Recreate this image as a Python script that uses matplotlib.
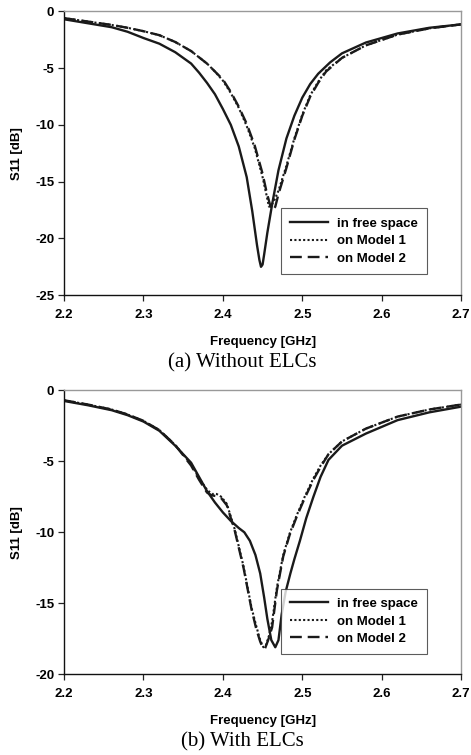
import matplotlib
matplotlib.use("Agg")
import matplotlib.pyplot as plt

# (a) without ELCs
freq_a_free = [2.20, 2.23, 2.26, 2.28, 2.30, 2.32, 2.34, 2.36, 2.37, 2.38, 2.39, 2.40, 2.41, 2.42, 2.43,
               2.437, 2.443, 2.446, 2.448, 2.450, 2.452, 2.456, 2.462, 2.47, 2.48, 2.49, 2.50, 2.51,
               2.52, 2.535, 2.55, 2.58, 2.62, 2.66, 2.70]
s11_a_free = [-0.7, -1.05, -1.4, -1.8, -2.35, -2.85, -3.6, -4.6, -5.4, -6.3, -7.3, -8.6, -10.0, -11.9, -14.6,
              -17.6, -20.6, -21.9, -22.5, -22.3, -21.4, -19.5, -17.0, -14.0, -11.2, -9.2, -7.6, -6.4,
              -5.5, -4.5, -3.7, -2.75, -1.95, -1.45, -1.15]

freq_a_m1 = [2.20, 2.23, 2.26, 2.28, 2.30, 2.32, 2.34, 2.36, 2.38, 2.39, 2.40, 2.41, 2.42, 2.43, 2.44,
             2.45, 2.455, 2.458, 2.461, 2.465, 2.47, 2.48, 2.49, 2.50, 2.51, 2.52, 2.53, 2.55, 2.58,
             2.62, 2.66, 2.70]
s11_a_m1 = [-0.6, -0.9, -1.2, -1.45, -1.75, -2.1, -2.7, -3.5, -4.6, -5.3, -6.1, -7.2, -8.5, -10.1, -12.0,
            -14.6, -16.2, -17.2, -17.1, -16.6, -15.8, -13.6, -11.2, -9.1, -7.4, -6.2, -5.2, -4.1, -3.0,
            -2.05, -1.5, -1.15]

freq_a_m2 = [2.20, 2.23, 2.26, 2.28, 2.30, 2.32, 2.34, 2.36, 2.38, 2.39, 2.40, 2.41, 2.42, 2.43, 2.44,
             2.45, 2.455, 2.46, 2.463, 2.466, 2.47, 2.48, 2.49, 2.50, 2.51, 2.52, 2.53, 2.55, 2.58,
             2.62, 2.66, 2.70]
s11_a_m2 = [-0.6, -0.9, -1.2, -1.45, -1.75, -2.1, -2.7, -3.5, -4.6, -5.3, -6.0, -7.1, -8.4, -9.9, -11.8,
            -14.3, -15.9, -17.2, -17.5, -17.2, -16.1, -13.8, -11.3, -9.2, -7.5, -6.3, -5.3, -4.1, -3.0,
            -2.05, -1.5, -1.15]

# (b) with ELCs
freq_b_free = [2.20, 2.23, 2.26, 2.28, 2.30, 2.32, 2.34, 2.36, 2.37, 2.38, 2.39, 2.40, 2.41, 2.42, 2.427,
               2.434, 2.441, 2.447, 2.452, 2.456, 2.461, 2.466, 2.470, 2.474, 2.479, 2.485, 2.49, 2.497,
               2.505, 2.514, 2.523, 2.533, 2.55, 2.58, 2.62, 2.66, 2.70]
s11_b_free = [-0.75, -1.05, -1.4, -1.75, -2.2, -2.85, -3.9, -5.1, -6.1, -7.1, -7.9, -8.6, -9.2, -9.7, -10.0,
              -10.6, -11.6, -12.9, -14.6, -16.1, -17.6, -18.1, -17.6, -15.8, -14.2, -12.9, -11.9, -10.6,
              -9.0, -7.5, -6.1, -4.9, -3.9, -3.05, -2.1, -1.55, -1.15]

freq_b_m1 = [2.20, 2.23, 2.26, 2.28, 2.30, 2.32, 2.34, 2.36, 2.37, 2.38, 2.386, 2.392, 2.398, 2.405,
             2.415, 2.426, 2.436, 2.442, 2.447, 2.451, 2.454, 2.458, 2.462, 2.468, 2.476, 2.484,
             2.493, 2.503, 2.514, 2.523, 2.533, 2.55, 2.58, 2.62, 2.66, 2.70]
s11_b_m1 = [-0.7, -1.0, -1.35, -1.7, -2.15, -2.8, -3.85, -5.2, -6.2, -7.0, -7.3, -7.3, -7.5, -8.0,
            -9.8, -12.4, -15.3, -16.6, -17.6, -18.1, -18.0, -17.3, -16.3, -13.9, -11.6, -10.1,
            -8.8, -7.5, -6.2, -5.3, -4.5, -3.6, -2.7, -1.85, -1.35, -1.0]

freq_b_m2 = [2.20, 2.23, 2.26, 2.28, 2.30, 2.32, 2.34, 2.36, 2.37, 2.38, 2.386, 2.392, 2.398, 2.405,
             2.415, 2.426, 2.436, 2.442, 2.447, 2.450, 2.453, 2.457, 2.462, 2.468, 2.476, 2.484,
             2.493, 2.503, 2.514, 2.523, 2.533, 2.55, 2.58, 2.62, 2.66, 2.70]
s11_b_m2 = [-0.7, -1.0, -1.35, -1.7, -2.15, -2.8, -3.85, -5.3, -6.3, -7.2, -7.4, -7.45, -7.6, -8.1,
            -9.9, -12.5, -15.4, -16.8, -17.7, -18.1, -18.2, -17.6, -16.7, -14.1, -11.7, -10.2,
            -8.9, -7.6, -6.3, -5.4, -4.5, -3.6, -2.7, -1.85, -1.35, -1.0]

x_ticks = [2.2, 2.3, 2.4, 2.5, 2.6, 2.7]
labels = ["in free space", "on Model 1", "on Model 2"]
captions = ["(a) Without ELCs", "(b) With ELCs"]

bold = {"family": "Liberation Sans", "weight": "bold", "size": 9.5}


def draw(ax, curves, ymin, yticks, leg_y):
    styles = [dict(ls="-", lw=1.7), dict(ls=(0, (1, 1.1)), lw=1.5), dict(ls=(0, (5, 2.5)), lw=1.7)]
    for (f, s), st, lab in zip(curves, styles, labels):
        ax.plot(f, s, color="#1a1a1a", label=lab, **st)
    ax.set_xlim(2.2, 2.7)
    ax.set_ylim(ymin, 0)
    ax.set_xticks(x_ticks)
    ax.set_yticks(yticks)
    ax.set_xticklabels([str(t) for t in x_ticks], fontdict=bold)
    ax.set_yticklabels([str(t) for t in yticks], fontdict=bold)
    ax.tick_params(direction="out", length=4, width=0.9, color="#222222", pad=3)
    ax.tick_params(axis="x", pad=6)
    ax.spines["left"].set_color("#111111")
    ax.spines["bottom"].set_color("#111111")
    ax.spines["top"].set_color("#999999")
    ax.spines["right"].set_color("#999999")
    for sp in ax.spines.values():
        sp.set_linewidth(1.0)
    ax.set_xlabel("Frequency [GHz]", fontdict=bold, labelpad=11)
    ax.set_ylabel("S11 [dB]", fontdict=bold, labelpad=9)
    leg = ax.legend(loc="lower right", bbox_to_anchor=(0.915, leg_y), frameon=True, fancybox=False,
                    edgecolor="#333333", handlelength=2.9, handletextpad=0.7, borderpad=0.7,
                    labelspacing=0.4, borderaxespad=0,
                    prop={"family": "Liberation Sans", "weight": "bold", "size": 9.5})
    leg.get_frame().set_linewidth(0.8)


fig = plt.figure(figsize=(4.71, 7.55), dpi=100)
ax1 = fig.add_axes([0.136, 0.609, 0.843, 0.376])
ax2 = fig.add_axes([0.136, 0.107, 0.843, 0.376])

draw(ax1, [(freq_a_free, s11_a_free), (freq_a_m1, s11_a_m1), (freq_a_m2, s11_a_m2)],
     -25, [0, -5, -10, -15, -20, -25], 0.074)
draw(ax2, [(freq_b_free, s11_b_free), (freq_b_m1, s11_b_m1), (freq_b_m2, s11_b_m2)],
     -20, [0, -5, -10, -15, -20], 0.070)

fig.text(0.515, 1 - 363 / 755, captions[0], ha="center", va="center",
         family="Liberation Serif", fontsize=15)
fig.text(0.515, 1 - 742 / 755, captions[1], ha="center", va="center",
         family="Liberation Serif", fontsize=15)

fig.savefig("out.png", dpi=100)
